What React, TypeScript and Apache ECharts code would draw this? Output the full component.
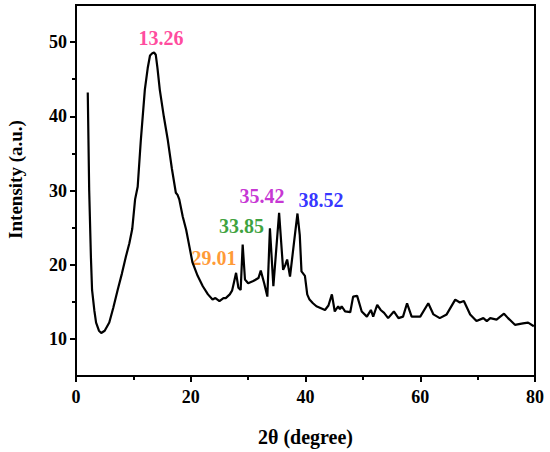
import React, { useEffect, useRef } from "react";
import * as echarts from "echarts";

const twoTheta = [
  2.05, 2.3, 2.6, 2.8, 3.2, 3.5, 4.0, 4.4, 5.0, 5.8, 6.5, 7.26, 8.0, 8.7, 9.3, 9.8, 10.3, 10.75,
  11.3, 12.0, 12.5, 12.9, 13.3, 13.6, 13.9, 14.2, 14.6, 15.3, 16.0, 16.7, 17.4, 17.7, 18.0, 18.6,
  19.2, 19.8, 20.3, 21.2, 22.1, 23.0, 23.8, 24.3, 25.0, 25.7, 26.1, 26.8, 27.2, 27.5, 27.9, 28.3,
  28.7, 29.05, 29.45, 30.0, 30.9, 31.8, 32.2, 32.8, 33.35, 33.8, 34.4, 35.4, 36.1, 36.5, 36.8,
  37.3, 38.0, 38.6, 39.0, 39.3, 39.9, 40.3, 40.7, 41.3, 41.9, 42.5, 43.4, 44.0, 44.6, 45.1, 45.7,
  46.0, 46.3, 46.9, 47.8, 48.3, 49.0, 49.8, 50.7, 51.4, 51.8, 52.5, 53.1, 53.7, 54.4, 55.4, 56.2,
  57.0, 57.7, 58.5, 60.0, 61.4, 62.3, 63.4, 64.6, 66.1, 66.9, 67.6, 68.7, 69.8, 71.0, 71.6, 72.2,
  73.3, 74.6, 75.3, 76.5, 77.9, 78.8, 79.8,
];
const intensity = [
  43.2, 30, 21, 16.6, 13.8, 12.2, 11.1, 10.8, 11.1, 12.2, 14.2, 16.6, 18.8, 21.1, 22.9, 24.8, 28.8, 30.5,
  36.8, 43.6, 46.5, 48.2, 48.5, 48.6, 48.3, 46.5, 43.6, 40, 36.8, 33, 29.7, 29.4, 28.8, 26.5,
  24.7, 22.3, 20.3, 18.5, 17.1, 16, 15.3, 15.5, 15.1, 15.5, 15.5, 16.0, 16.5, 17.5, 18.9, 16.9,
  16.6, 22.7, 18.0, 17.5, 17.8, 18.2, 19.2, 17.5, 15.7, 24.9, 17.1, 27.0, 19.3, 20.0, 20.7,
  18.4, 23, 26.9, 24, 19.1, 18.5, 16, 15.3, 14.8, 14.4, 14.2, 13.9, 14.5, 16.0, 13.7, 14.4,
  14.0, 14.4, 13.7, 13.6, 15.7, 15.8, 13.7, 13.0, 13.9, 13.0, 14.6, 13.9, 13.5, 12.8, 13.7, 12.8,
  13.0, 14.8, 13.0, 13.0, 14.8, 13.3, 12.8, 13.3, 15.3, 14.9, 15.1, 13.3, 12.4, 12.8, 12.4, 12.8,
  12.6, 13.4, 12.8, 11.9, 12.1, 12.2, 11.7,
];

const peakLabels = ["13.26", "29.01", "33.85", "35.42", "38.52"];
const peakLabelX = [14.8, 24.05, 28.85, 32.42, 42.7];
const peakLabelY = [50.6, 20.95, 25.17, 29.2, 28.76];
const peakColors = ["#ff1a85", "#ff8000", "#0a8a0a", "#b800c8", "#0000ff"];

const xMajor = [0, 20, 40, 60, 80];
const xMinor = [10, 30, 50, 70];
const yMajor = [10, 20, 30, 40, 50];
const yMinor = [15, 25, 35, 45];

const FONT = "'Liberation Serif', 'Times New Roman', serif";

export default function App() {
  const ref = useRef<HTMLDivElement>(null);
  useEffect(() => {
    if (!ref.current) return;
    const chart = echarts.init(ref.current, null, { renderer: "svg" });
    const axisLine = { show: true, lineStyle: { color: "#000", width: 2 } };
    chart.setOption({
      animation: false,
      backgroundColor: "#fff",
      grid: {
        left: 76,
        right: 15,
        top: 5,
        bottom: 76,
        show: true,
        borderColor: "#000",
        borderWidth: 2,
        containLabel: false,
        outerBoundsMode: "none",
      },
      xAxis: [
        {
          type: "value",
          min: 0,
          max: 80,
          name: "2θ (degree)",
          nameLocation: "middle",
          nameGap: 51,
          nameTextStyle: { fontFamily: FONT, fontWeight: "bold", fontSize: 20, color: "#000" },
          axisLine,
          axisTick: { show: true, length: 6, lineStyle: { color: "#000", width: 2 }, customValues: xMajor },
          axisLabel: {
            customValues: xMajor,
            margin: 12,
            fontFamily: FONT,
            fontWeight: "bold",
            fontSize: 18,
            color: "#000",
          },
          splitLine: { show: false },
        },
        {
          type: "value",
          min: 0,
          max: 80,
          position: "bottom",
          axisLine: { show: false },
          axisTick: { show: true, length: 4, lineStyle: { color: "#000", width: 2 }, customValues: xMinor },
          axisLabel: { show: false },
          splitLine: { show: false },
        },
      ],
      yAxis: [
        {
          type: "value",
          min: 5,
          max: 55,
          name: "Intensity (a.u.)",
          nameLocation: "middle",
          nameGap: 51,
          nameRotate: 90,
          nameTextStyle: {
            fontFamily: FONT,
            fontWeight: "bold",
            fontSize: 19,
            color: "#000",
            padding: [0, 0, 0, 22],
          },
          axisLine,
          axisTick: { show: true, length: 6, lineStyle: { color: "#000", width: 2 }, customValues: yMajor },
          axisLabel: {
            customValues: yMajor,
            margin: 9,
            fontFamily: FONT,
            fontWeight: "bold",
            fontSize: 18,
            color: "#000",
          },
          splitLine: { show: false },
        },
        {
          type: "value",
          min: 5,
          max: 55,
          position: "left",
          axisLine: { show: false },
          axisTick: { show: true, length: 4, lineStyle: { color: "#000", width: 2 }, customValues: yMinor },
          axisLabel: { show: false },
          splitLine: { show: false },
        },
      ],
      series: [
        {
          type: "line",
          data: twoTheta.map((x, i) => [x, intensity[i]]),
          showSymbol: false,
          symbol: "none",
          smooth: false,
          lineStyle: { color: "#000", width: 2.2 },
        },
        {
          type: "scatter",
          symbolSize: 0,
          data: peakLabels.map((t, i) => ({
            value: [peakLabelX[i], peakLabelY[i]],
            name: t,
            label: {
              show: true,
              position: "inside",
              formatter: t,
              color: peakColors[i],
              fontFamily: FONT,
              fontWeight: "bold",
              fontSize: 20,
            },
          })),
        },
      ],
    });
    return () => chart.dispose();
  }, []);
  return (
    <div
      ref={ref}
      style={{ position: "absolute", left: 0, top: 0, width: 550, height: 452, background: "#fff" }}
    />
  );
}
